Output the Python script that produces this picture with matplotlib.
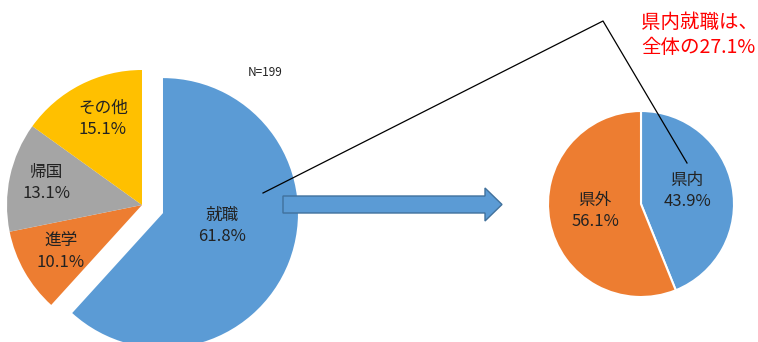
import matplotlib.pyplot as plt
from matplotlib.patches import FancyArrow

plt.rcParams['font.family'] = ['Noto Sans CJK JP', 'DejaVu Sans']

# 左の円グラフ (N=199)
left_labels = ['就職', '進学', '帰国', 'その他']
left_values = [61.8, 10.1, 13.1, 15.1]
left_colors = ['#5B9BD5', '#ED7D31', '#A5A5A5', '#FFC000']

# 右の円グラフ (就職の内訳)
right_labels = ['県内', '県外']
right_values = [43.9, 56.1]
right_colors = ['#5B9BD5', '#ED7D31']

W, H = 758, 342
fig = plt.figure(figsize=(W / 100, H / 100), dpi=100)
ax = fig.add_axes([0, 0, 1, 1])
ax.set_xlim(0, W)
ax.set_ylim(0, H)
ax.axis('off')

# 画像座標(上が0)からデータ座標へ
def yy(y):
    return H - y

# explode はデータ座標での移動量 (半径の約1/6)
ax.pie(left_values, colors=left_colors, explode=[22.5, 0, 0, 0], startangle=90,
       counterclock=False, center=(142, yy(205)), radius=135,
       wedgeprops=dict(linewidth=0))
ax.pie(right_values, colors=right_colors, startangle=90, counterclock=False,
       center=(641, yy(204)), radius=93,
       wedgeprops=dict(edgecolor='white', linewidth=1.5))
ax.set_xlim(0, W)
ax.set_ylim(0, H)
ax.set_aspect('equal')

left_pos = [(222, 226), (61, 252), (46, 183), (103, 119)]
for lab, v, (x, y) in zip(left_labels, left_values, left_pos):
    ax.text(x, yy(y), f'{lab}\n{v:.1f}%', ha='center', va='center',
            fontsize=12, linespacing=1.35, color='#222222')

right_pos = [(687, 191), (595, 211)]
for lab, v, (x, y) in zip(right_labels, right_values, right_pos):
    ax.text(x, yy(y), f'{lab}\n{v:.1f}%', ha='center', va='center',
            fontsize=12, linespacing=1.35, color='#222222')

ax.text(265, yy(72), 'N=199', ha='center', va='center', fontsize=8.5,
        color='#222222')

# 矢印
ax.add_patch(FancyArrow(283, yy(204.5), 219, 0, width=17, head_width=33,
                        head_length=17, length_includes_head=True,
                        facecolor='#5B9BD5', edgecolor='#41719C', lw=1))

# 引き出し線
ax.plot([263, 603, 687], [yy(193), yy(21), yy(163)], color='black', lw=0.9)

ax.text(641, yy(35), '県内就職は、\n全体の27.1%', ha='left', va='center',
        fontsize=14, color='#FF0000', linespacing=1.25)

fig.savefig('out.png', dpi=100)
